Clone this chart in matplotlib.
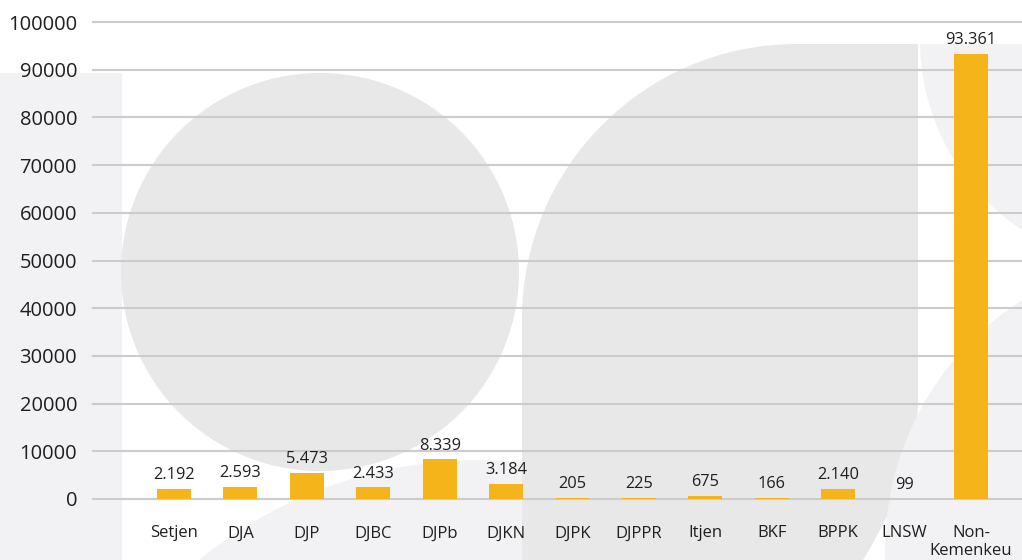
import matplotlib
matplotlib.use("Agg")
import matplotlib.pyplot as plt
from matplotlib.patches import Rectangle, Circle, PathPatch
from matplotlib.path import Path

# data
categories = ["Setjen", "DJA", "DJP", "DJBC", "DJPb", "DJKN", "DJPK", "DJPPR",
              "Itjen", "BKF", "BPPK", "LNSW", "Non-\nKemenkeu"]
values = [2192, 2593, 5473, 2433, 8339, 3184, 205, 225, 675, 166, 2140, 99, 93361]
yticks = [0, 10000, 20000, 30000, 40000, 50000, 60000, 70000, 80000, 90000, 100000]

BAR = "#F5B41A"
DARK = "#e8e8e8"
LIGHT = "#f2f2f4"
TXT = "#1f1f1f"

plt.rcParams["font.family"] = ["Open Sans", "DejaVu Sans"]

W, H = 1022, 560
fig = plt.figure(figsize=(W / 100, H / 100), dpi=100)

# ── decorative background (pixel coords) ─────────────────────────────────────
bg = fig.add_axes([0, 0, 1, 1], zorder=0)
bg.set_xlim(0, W); bg.set_ylim(H, 0); bg.axis("off")

bg.add_patch(Rectangle((0, 73), 122, H - 73, color=LIGHT, lw=0))
bg.add_patch(Circle((480, 905), 445, color=LIGHT, lw=0))
bg.add_patch(Circle((320, 272), 199, color=DARK, lw=0))

k = 0.5523  # bezier quarter circle
r = 275
verts = [(522, 560), (522, 319),
         (522, 319 - k * r), (797 - k * r, 44), (797, 44),
         (918, 44), (918, 400),
         (918, 470), (863, 560),
         (522, 560)]
codes = [Path.MOVETO, Path.LINETO,
         Path.CURVE4, Path.CURVE4, Path.CURVE4,
         Path.LINETO, Path.LINETO,
         Path.CURVE3, Path.CURVE3,
         Path.CLOSEPOLY]
bg.add_patch(PathPatch(Path(verts, codes), color=DARK, lw=0))

clip = Rectangle((918, 44), W - 918, H - 44, transform=bg.transData)
c1 = Circle((1148, 40), 228, color=LIGHT, lw=0)
bg.add_patch(c1); c1.set_clip_path(clip)
bg.add_patch(Circle((1181, 550), 296, color=LIGHT, lw=0))

# ── chart ────────────────────────────────────────────────────────────────────
ax = fig.add_axes([93 / W, 1 - 499 / H, 1 - 93 / W, (499 - 22) / H], zorder=1)
ax.patch.set_alpha(0)
x = list(range(len(categories)))
bars = ax.bar(x, values, width=0.51, color=BAR, zorder=3)
for xi, v in zip(x, values):
    ax.annotate(f"{v:,}".replace(",", "."), (xi, v), xytext=(0, 7),
                textcoords="offset points", ha="center", va="baseline",
                fontsize=11.8, color=TXT)

ax.set_xlim(-1.22, 12.77)
ax.set_ylim(0, 100000)
ax.set_yticks(yticks)
ax.set_yticklabels([str(t) for t in yticks])
ax.set_xticks(x)
ax.set_xticklabels(categories, linespacing=1.15)
ax.tick_params(axis="y", length=0, pad=11.5, labelsize=14.5, labelcolor=TXT)
ax.tick_params(axis="x", length=0, pad=19, labelsize=12, labelcolor=TXT)
ax.grid(axis="y", color="#cccccc", lw=1.5, zorder=0)
ax.set_axisbelow(True)
for s in ax.spines.values():
    s.set_visible(False)
for gl in ax.get_ygridlines():
    gl.set_clip_on(False)

fig.savefig("out.png", dpi=100)
